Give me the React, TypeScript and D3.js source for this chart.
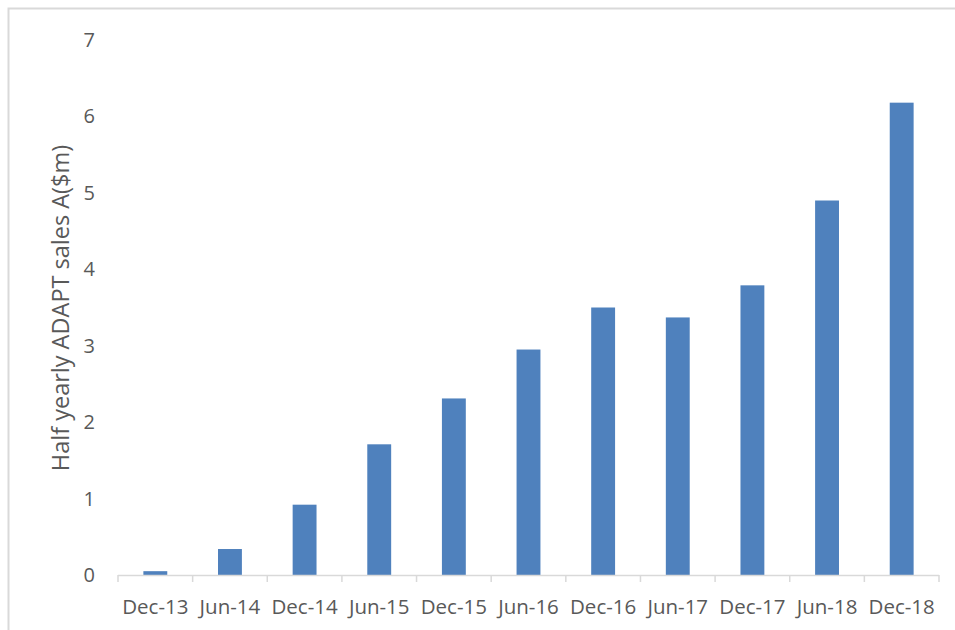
import React from "react";
import * as d3 from "d3";

const categories = ["Dec-13", "Jun-14", "Dec-14", "Jun-15", "Dec-15", "Jun-16", "Dec-16", "Jun-17", "Dec-17", "Jun-18", "Dec-18"];
const sales = [0.05, 0.34, 0.92, 1.71, 2.31, 2.95, 3.5, 3.37, 3.79, 4.9, 6.18];
const yTicks = [0, 1, 2, 3, 4, 5, 6, 7];
const yTitle = "Half yearly ADAPT sales A($m)";

const W = 955;
const H = 630;
const left = 118;
const right = 939;
const top = 40;
const bottom = 575;
const font = "'Open Sans', 'Liberation Sans', sans-serif";
const textColor = "#595959";
const gridColor = "#d9d9d9";

export default function App() {
  const x = d3.scaleBand<string>().domain(categories).range([left, right]).paddingInner(0.68).paddingOuter(0.34);
  const step = (right - left) / categories.length;
  const y = d3.scaleLinear().domain([0, 7]).range([bottom, top]);
  const boundaries = d3.range(categories.length + 1).map((i) => left + i * step);

  return (
    <div style={{ position: "absolute", left: 0, top: 0 }}>
      <svg width={W} height={H} style={{ display: "block", background: "#fff" }}>
        <rect x={8.5} y={8.5} width={W + 20} height={H + 20} fill="#fff" stroke={gridColor} strokeWidth={2} />
        {sales.map((v, i) => (
          <rect key={i} x={x(categories[i])} y={y(v)} width={x.bandwidth()} height={y(0) - y(v)} fill="#4f81bd" />
        ))}
        <line x1={left} x2={right} y1={bottom + 0.5} y2={bottom + 0.5} stroke={gridColor} strokeWidth={1.5} />
        {boundaries.map((bx, i) => (
          <line key={i} x1={bx} x2={bx} y1={bottom} y2={bottom + 7} stroke={gridColor} strokeWidth={1.5} />
        ))}
        {yTicks.map((t) => (
          <text key={t} x={95} y={y(t)} dy="0.35em" textAnchor="end" fontFamily={font} fontSize={20} fill={textColor}>
            {t}
          </text>
        ))}
        {categories.map((c) => (
          <text key={c} x={(x(c) as number) + x.bandwidth() / 2} y={607} dy="0.35em" textAnchor="middle" fontFamily={font} fontSize={20.5} fill={textColor}>
            {c}
          </text>
        ))}
        <text transform={`translate(61, 308) rotate(-90)`} textAnchor="middle" dy="0.35em" fontFamily={font} fontSize={23.5} fill={textColor}>
          {yTitle}
        </text>
      </svg>
    </div>
  );
}
